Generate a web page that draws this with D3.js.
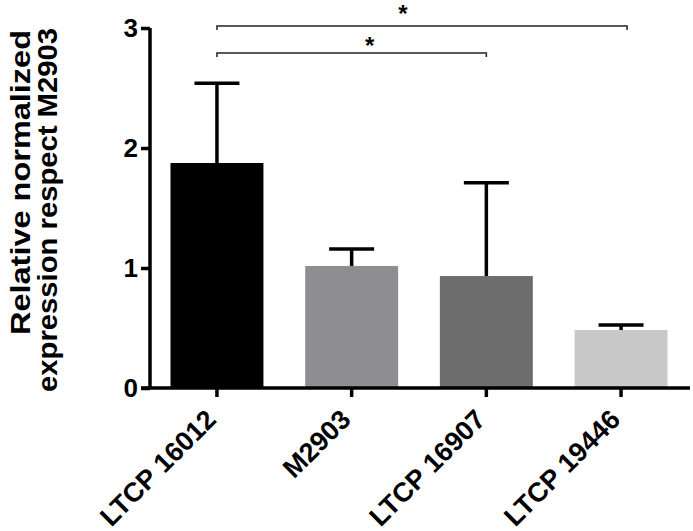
<!DOCTYPE html>
<html>
<head>
<meta charset="utf-8">
<script src="https://cdn.jsdelivr.net/npm/d3@7"></script>
<style>
    body { margin: 0; background: #fff; }
    text { font-family: "Liberation Sans", Arial, sans-serif; font-weight: bold; }
</style>
</head>
<body>
<script>
// Bar chart of relative expression, with SD error bars and two
// significance brackets on top.

var categories = ["LTCP 16012", "M2903", "LTCP 16907", "LTCP 19446"];
var means = [1.875, 1.017, 0.933, 0.483];
var errTops = [2.54, 1.158, 1.71, 0.525];
var barColors = ["#000000", "#8e8d92", "#6d6d6d", "#c8c8c8"];
var yTicks = [0, 1, 2, 3];

// brackets: from category, to category, label
var brackets = [
    {from: "LTCP 16012", to: "LTCP 19446", label: "*"},
    {from: "LTCP 16012", to: "LTCP 16907", label: "*"}
];

var width = 693,
    height = 531;

var svg = d3.select("body").append("svg")
    .attr("width", width)
    .attr("height", height);

var xScale = d3.scaleBand()
    .domain(categories)
    .range([149.6, 688.4])
    .paddingInner(0.31)
    .paddingOuter(0.155);

var yScale = d3.scaleLinear().domain([0, 3]).range([388, 28]);

var data = categories.map(function (c, i) {
    return {key: c, value: means[i], top: errTops[i], color: barColors[i]};
});

// bars
svg.selectAll("rect.bar")
    .data(data)
    .enter()
    .append("rect")
    .attr("class", "bar")
    .attr("x", function (d) { return xScale(d.key); })
    .attr("y", function (d) { return yScale(d.value); })
    .attr("width", xScale.bandwidth())
    .attr("height", function (d) { return yScale(0) - yScale(d.value); })
    .attr("fill", function (d) { return d.color; });

// error bars (upper only)
var cx = function (d) { return xScale(d.key) + xScale.bandwidth() / 2; };
var err = svg.selectAll("g.err")
    .data(data)
    .enter()
    .append("g")
    .attr("class", "err")
    .attr("stroke", "#000")
    .attr("stroke-width", 3.5);
err.append("line")
    .attr("x1", cx).attr("x2", cx)
    .attr("y1", function (d) { return yScale(d.value); })
    .attr("y2", function (d) { return yScale(d.top); });
err.append("line")
    .attr("x1", function (d) { return cx(d) - 22.5; })
    .attr("x2", function (d) { return cx(d) + 22.5; })
    .attr("y1", function (d) { return yScale(d.top); })
    .attr("y2", function (d) { return yScale(d.top); });

// y axis
var yAxis = d3.axisLeft(yScale)
    .tickValues(yTicks)
    .tickFormat(d3.format("d"))
    .tickSize(9)
    .tickPadding(3);

var gy = svg.append("g")
    .attr("transform", "translate(150,0)")
    .call(yAxis);
gy.select(".domain").attr("stroke-width", 3.5).attr("d", "M0,28V388");
gy.selectAll(".tick line").attr("stroke-width", 3.5);
gy.selectAll(".tick text")
    .attr("font-size", "26px")
    .attr("fill", "#000");

// x axis, labels at -45 degrees ending under each tick
var xAxis = d3.axisBottom(xScale).tickSize(9).tickSizeOuter(0);
var gx = svg.append("g")
    .attr("transform", "translate(0,388)")
    .call(xAxis);
gx.select(".domain").attr("stroke-width", 3.5).attr("d", "M141,0H690");
gx.selectAll(".tick line").attr("stroke-width", 3.5);
gx.selectAll(".tick text")
    .attr("font-size", "27px")
    .attr("fill", "#000")
    .attr("text-anchor", "end")
    .attr("dx", "-23px")
    .attr("dy", "12px")
    .attr("transform", "rotate(-45)");

// y axis caption, two lines, right aligned at the top
var cap = svg.append("text")
    .attr("text-anchor", "end")
    .attr("transform", "rotate(-90)")
    .attr("font-size", "28px")
    .attr("fill", "#000");
cap.append("tspan").attr("x", -30).attr("y", 30)
    .attr("textLength", 305).attr("lengthAdjust", "spacingAndGlyphs")
    .text("Relative normalized");
cap.append("tspan").attr("x", -28).attr("y", 57)
    .attr("textLength", 364).attr("lengthAdjust", "spacingAndGlyphs")
    .text("expression respect M2903");

// significance brackets
var bracketY = [26, 53];
var starShift = [-19, 18];
var starBase = [22, 54];
brackets.forEach(function (b, i) {
    var x1 = xScale(b.from) + xScale.bandwidth() / 2,
        x2 = xScale(b.to) + xScale.bandwidth() / 2 + (i === 0 ? 6 : 0),
        y = bracketY[i];
    svg.append("path")
        .attr("d", "M" + x1 + "," + (y + 4) + "V" + y + "H" + x2 + "V" + (y + 4))
        .attr("fill", "none")
        .attr("stroke", "#222")
        .attr("stroke-width", 1.5);
    svg.append("text")
        .attr("x", (x1 + x2) / 2 + starShift[i])
        .attr("y", starBase[i])
        .attr("text-anchor", "middle")
        .attr("font-size", "24px")
        .attr("fill", "#000")
        .text(b.label);
});
</script>
</body>
</html>
